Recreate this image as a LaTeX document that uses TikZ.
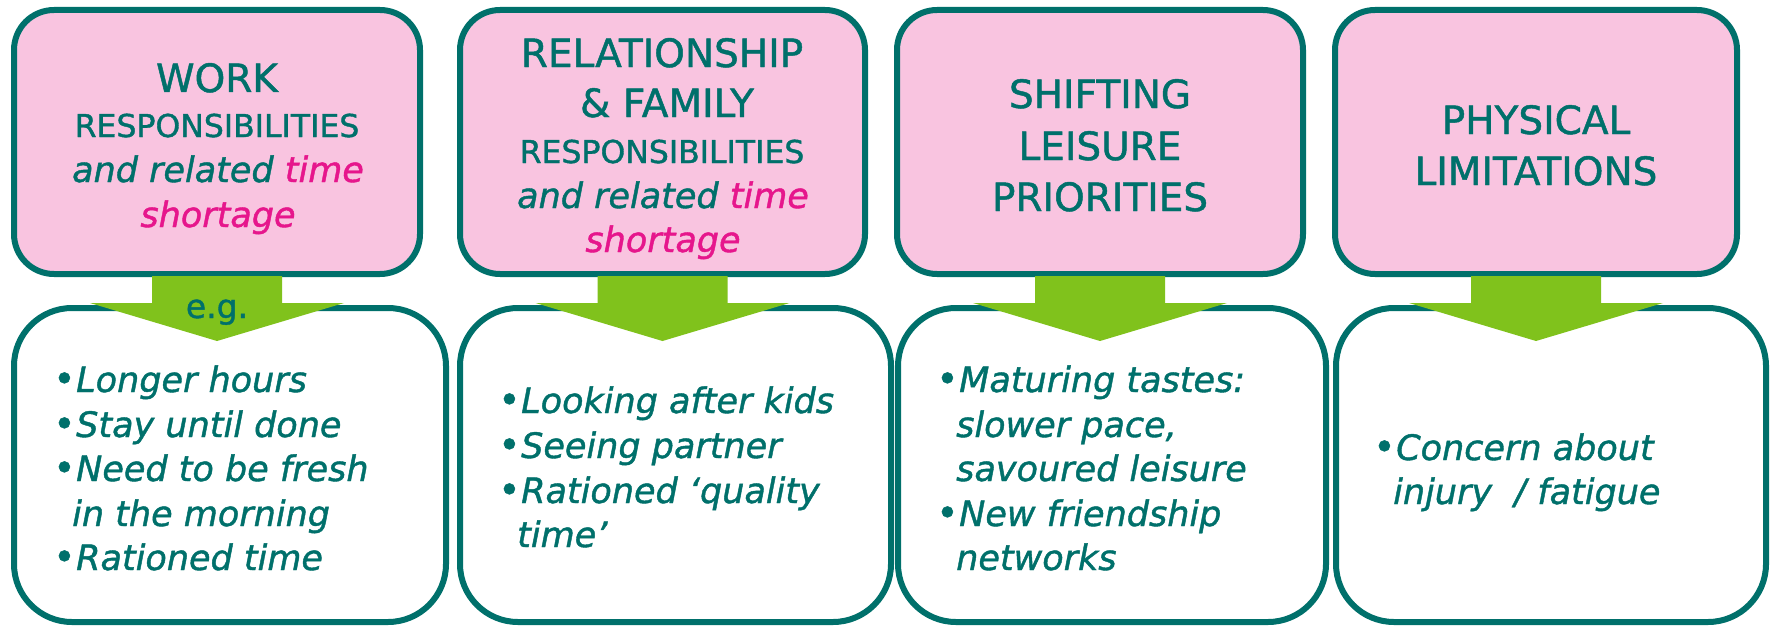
\documentclass[tikz,border=0pt]{standalone}
\usepackage{fontspec}
\setmainfont{DejaVu Sans}[FakeBold=1.2]
\usetikzlibrary{calc}
\definecolor{teal1}{RGB}{0,112,107}
\definecolor{pinkfill}{RGB}{249,196,224}
\definecolor{magenta1}{RGB}{230,22,140}
\definecolor{green1}{RGB}{128,194,28}
\newcommand\bul{\makebox[23pt][l]{\upshape\fontsize{38}{38}\selectfont •}}
\newcommand\pk[1]{\textcolor{magenta1}{#1}}
\tikzset{
  topbox/.style={draw=teal1, line width=6pt, fill=pinkfill, rounded corners=40pt,
    minimum height=264pt, inner sep=0pt},
  botbox/.style={draw=teal1, line width=6pt, fill=white, rounded corners=58pt,
    minimum height=314pt, inner sep=0pt},
  arrowfill/.style={fill=green1},
  hbig/.style={text=teal1, inner sep=0pt, anchor=base, font=\fontsize{39}{47}\selectfont},
  hmid/.style={text=teal1, inner sep=0pt, anchor=base, font=\fontsize{31.5}{38}\selectfont},
  hit/.style={text=teal1, inner sep=0pt, anchor=base, font=\fontsize{35}{42}\selectfont\itshape},
  itemtext/.style={text=teal1, inner sep=0pt, anchor=base west, font=\fontsize{35}{42}\selectfont\itshape},
}
\begin{document}
\begin{tikzpicture}[x=1pt, y=-1pt]
\useasboundingbox (0,0) rectangle (1774,626);
% top boxes
\node[topbox, minimum width=406pt] (t1) at (217,142) {};
\node[topbox, minimum width=405pt] (t2) at (662.5,142) {};
\node[topbox, minimum width=406pt] (t3) at (1100,142) {};
\node[topbox, minimum width=402pt] (t4) at (1536,142) {};
% bottom boxes
\node[botbox, minimum width=432pt] (b1) at (230,465) {};
\node[botbox, minimum width=431pt] (b2) at (675.5,465) {};
\node[botbox, minimum width=428pt] (b3) at (1112,465) {};
\node[botbox, minimum width=430pt] (b4) at (1551,465) {};
% arrows
\foreach \t in {t1,t2,t3,t4}{
  \begin{scope}[shift={(\t.south)}]
    \fill[arrowfill] (-65,-1) -- (65,-1) -- (65,26) -- (127,26) -- (0,64)
      -- (-127,26) -- (-65,26) -- cycle;
  \end{scope}
}
\node[text=teal1, inner sep=0pt, anchor=base, font=\fontsize{33}{40}\selectfont] (eg) at (217,318) {e.g.};
% header texts
\node[hbig] (h1a) at (217,92) {WORK};
\node[hmid] (h1b) at (217,137) {RESPONSIBILITIES};
\node[hit] (h1c) at (218,182) {and related \pk{time}};
\node[hit] (h1d) at (218,227) {\pk{shortage}};
\node[hbig] (h2a) at (662,67) {RELATIONSHIP};
\node[hbig] (h2b) at (667,117) {\& FAMILY};
\node[hmid] (h2c) at (662,163) {RESPONSIBILITIES};
\node[hit] (h2d) at (663,208) {and related \pk{time}};
\node[hit] (h2e) at (663,252) {\pk{shortage}};
\node[hbig] (h3a) at (1100,108) {SHIFTING};
\node[hbig] (h3b) at (1100,160) {LEISURE};
\node[hbig] (h3c) at (1100,211) {PRIORITIES};
\node[hbig] (h4a) at (1536,134) {PHYSICAL};
\node[hbig] (h4b) at (1536,185) {LIMITATIONS};
% items box 1
\node[itemtext] (i1a) at (53,392) {\bul Longer hours};
\node[itemtext] (i1b) at (53,437) {\bul Stay until done};
\node[itemtext] (i1c) at (53,481) {\bul Need to be fresh};
\node[itemtext] (i1d) at (72,526) {in the morning};
\node[itemtext] (i1e) at (53,570) {\bul Rationed time};
% items box 2
\node[itemtext] (i2a) at (498,413) {\bul Looking after kids};
\node[itemtext] (i2b) at (498,458) {\bul Seeing partner};
\node[itemtext] (i2c) at (498,503) {\bul Rationed ‘quality};
\node[itemtext] (i2d) at (517,547) {time’};
% items box 3
\node[itemtext] (i3a) at (936,392) {\bul Maturing tastes:};
\node[itemtext] (i3b) at (956,437) {slower pace,};
\node[itemtext] (i3c) at (956,481) {savoured leisure};
\node[itemtext] (i3d) at (936,526) {\bul New friendship};
\node[itemtext] (i3e) at (956,570) {networks};
% items box 4
\node[itemtext] (i4a) at (1373,460) {\bul Concern about};
\node[itemtext] (i4b) at (1393,504) {injury~~/ fatigue};
\end{tikzpicture}
\end{document}
